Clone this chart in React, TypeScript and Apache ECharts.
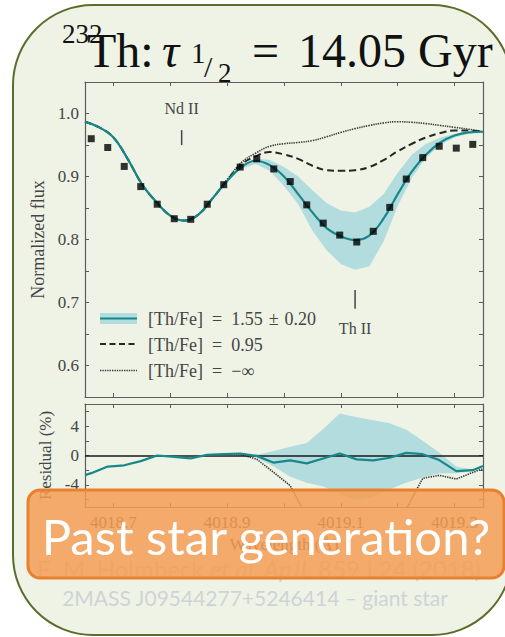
import React, { useEffect, useRef } from 'react';
import * as echarts from 'echarts';

// Observed spectrum (wavelength in Å, normalized flux)
const obsLambda = [
  4018.661, 4018.690, 4018.719, 4018.748, 4018.777, 4018.807, 4018.836, 4018.865,
  4018.894, 4018.923, 4018.952, 4018.982, 4019.011, 4019.040, 4019.069, 4019.098,
  4019.128, 4019.157, 4019.186, 4019.215, 4019.244, 4019.273, 4019.303, 4019.332,
];
const obsFlux = [
  0.960, 0.946, 0.916, 0.884, 0.856, 0.833, 0.832, 0.856,
  0.887, 0.915, 0.928, 0.912, 0.892, 0.855, 0.826, 0.807,
  0.796, 0.813, 0.851, 0.896, 0.930, 0.948, 0.945, 0.951,
];

// Synthetic spectra on the model grid
const modelLambda = [
  4018.650, 4018.675, 4018.700, 4018.725, 4018.750, 4018.775, 4018.800, 4018.825,
  4018.850, 4018.875, 4018.900, 4018.925, 4018.950, 4018.975, 4019.000, 4019.025,
  4019.050, 4019.075, 4019.100, 4019.125, 4019.150, 4019.175, 4019.200, 4019.225,
  4019.250, 4019.275, 4019.300, 4019.325, 4019.350,
];
const fitFlux = [
  0.987, 0.978, 0.962, 0.928, 0.888, 0.860, 0.838, 0.830,
  0.840, 0.866, 0.893, 0.915, 0.925, 0.918, 0.900, 0.872,
  0.843, 0.818, 0.805, 0.799, 0.806, 0.833, 0.872, 0.908,
  0.935, 0.954, 0.965, 0.970, 0.971,
];
const lowThFlux = [
  0.987, 0.978, 0.962, 0.928, 0.888, 0.860, 0.838, 0.830,
  0.840, 0.866, 0.894, 0.919, 0.932, 0.939, 0.935, 0.928,
  0.917, 0.910, 0.909, 0.910, 0.915, 0.926, 0.940, 0.952,
  0.962, 0.969, 0.973, 0.973, 0.971,
];
const noThFlux = [
  0.987, 0.978, 0.962, 0.928, 0.888, 0.860, 0.838, 0.830,
  0.840, 0.866, 0.895, 0.922, 0.937, 0.948, 0.952, 0.954,
  0.957, 0.963, 0.970, 0.976, 0.981, 0.985, 0.987, 0.986,
  0.984, 0.981, 0.978, 0.975, 0.971,
];

// ±0.20 dex envelope of the best fit
const bandLambda = [
  4018.900, 4018.925, 4018.950, 4018.975, 4019.000, 4019.025, 4019.050, 4019.075,
  4019.100, 4019.125, 4019.150, 4019.175, 4019.200, 4019.225, 4019.250, 4019.275,
  4019.300, 4019.325, 4019.350,
];
const bandUpper = [
  0.894, 0.918, 0.929, 0.926, 0.915, 0.900, 0.878, 0.858,
  0.846, 0.843, 0.852, 0.872, 0.906, 0.935, 0.952, 0.962,
  0.968, 0.971, 0.972,
];
const bandLower = [
  0.892, 0.912, 0.920, 0.909, 0.885, 0.856, 0.814, 0.783,
  0.761, 0.752, 0.757, 0.797, 0.853, 0.898, 0.930, 0.950,
  0.962, 0.968, 0.970,
];

// Residuals (%)
const residLambda = [
  4018.650, 4018.661, 4018.690, 4018.719, 4018.748, 4018.777, 4018.807, 4018.836,
  4018.865, 4018.894, 4018.923, 4018.952, 4018.982, 4019.011, 4019.040, 4019.069,
  4019.098, 4019.128, 4019.157, 4019.186, 4019.215, 4019.244, 4019.273, 4019.303,
  4019.332, 4019.350,
];
const residFit = [
  -2.67, -2.4, -1.5, -1.33, -0.76, 0.0, -0.18, -0.4,
  0.1, 0.2, 0.27, -0.05, -0.98, -0.67, -1.07, -0.4,
  0.27, -0.53, -0.67, -0.31, 0.36, 0.18, -0.62, -2.13,
  -2.0, -1.42,
];
const residNoThLambda = [
  4018.894, 4018.923, 4018.952, 4018.982, 4019.011, 4019.040, 4019.069, 4019.098,
  4019.128, 4019.157, 4019.186, 4019.215, 4019.244, 4019.273, 4019.303, 4019.332,
  4019.350,
];
const residNoTh = [
  0.2, 0.15, -0.5, -2.3, -4.1, -8.4, -12, -15,
  -17, -15, -11, -7.3, -3.1, -2.7, -3.2, -2.3,
  -1.8,
];
const residBandLambda = [
  4018.952, 4018.982, 4019.011, 4019.040, 4019.069, 4019.098, 4019.128, 4019.157,
  4019.186, 4019.215, 4019.244, 4019.273, 4019.303, 4019.332,
];
const residBandUpper = [0.1, 0.6, 1.2, 1.7, 3.6, 5.7, 5.2, 4.8, 4.4, 3.5, 2.0, 0.4, -1.5, -1.9];
const residBandLower = [-0.3, -1.5, -2.9, -3.7, -4.2, -5.2, -6.0, -5.6, -4.6, -3.7, -3.0, -2.4, -2.4, -2.1];

// Line identifications
const lineNames = ['Nd II', 'Th II'];
const lineLambda = [4018.82, 4019.125];
const lineTickTop = [0.9736, 0.720];
const lineTickBottom = [0.9498, 0.690];
const lineLabelFlux = [1.0084, 0.658];

// Legend entries
const legendLabels = [
  '[Th/Fe]\u2002=\u20021.55\u2004±\u20040.20',
  '[Th/Fe]\u2002=\u20020.95',
  '[Th/Fe]\u2002=\u2002−∞',
];

// Axis ticks and labels
const xMin = 4018.65;
const xMax = 4019.35;
const xTicks = [4018.7, 4018.8, 4018.9, 4019.0, 4019.1, 4019.2, 4019.3];
const xLabels = [4018.7, 4018.9, 4019.1, 4019.3];
const fluxMin = 0.55;
const fluxMax = 1.05;
const fluxTicks = [0.6, 0.65, 0.7, 0.75, 0.8, 0.85, 0.9, 0.95, 1.0];
const fluxLabels = [0.6, 0.7, 0.8, 0.9, 1.0];
const residMin = -7;
const residMax = 7;
const residTicks = [-6, -4, -2, 0, 2, 4, 6];
const residLabels = [-4, 0, 4];

const TEAL = '#17878a';
const BAND = '#b3dcdf';
const AXIS = '#5c5c5c';
const TEXT = '#454545';
const DOTTED = '#3c3c3c';
const SERIF = '"Liberation Serif", "DejaVu Serif", serif';
const SANS = 'Lato, "Open Sans", sans-serif';

function pairs(xs: number[], ys: number[]) {
  return xs.map((x, i) => [x, ys[i]]);
}

function envelope(xi: number, yi: number, lam: number[], up: number[], lo: number[]) {
  return {
    type: 'custom',
    xAxisIndex: xi,
    yAxisIndex: yi,
    silent: true,
    z: 1,
    data: lam.map((l, i) => [l, up[i], lo[i]]),
    encode: { x: 0, y: [1, 2] },
    renderItem: (params: any, api: any) => {
      if (params.dataIndex !== 0) return null;
      const pts: number[][] = [];
      for (let i = 0; i < lam.length; i++) pts.push(api.coord([lam[i], up[i]]));
      for (let i = lam.length - 1; i >= 0; i--) pts.push(api.coord([lam[i], lo[i]]));
      return { type: 'polygon', shape: { points: pts }, style: { fill: BAND } };
    },
  };
}

function frameAxis(gridIndex: number, position: string, isX: boolean, extra: any = {}) {
  return {
    type: 'value',
    gridIndex,
    position,
    min: isX ? xMin : gridIndex === 0 ? fluxMin : residMin,
    max: isX ? xMax : gridIndex === 0 ? fluxMax : residMax,
    axisLine: { show: true, onZero: false, lineStyle: { color: AXIS, width: 1.2 } },
    axisTick: {
      show: true,
      inside: true,
      length: 4,
      lineStyle: { color: AXIS, width: 1 },
      customValues: isX ? xTicks : gridIndex === 0 ? fluxTicks : residTicks,
    },
    axisLabel: { show: false },
    splitLine: { show: false },
    ...extra,
  };
}

const labelStyle = { color: TEXT, fontFamily: SERIF, fontSize: 17 };

export default function App() {
  const ref = useRef<HTMLDivElement>(null);

  useEffect(() => {
    if (!ref.current) return;
    const chart = echarts.init(ref.current, undefined, { renderer: 'svg' });

    const legendText = (i: number, y: number) => ({
      type: 'text',
      z: 11,
      x: 148,
      y,
      style: { text: legendLabels[i], fontFamily: SERIF, fontSize: 18, fill: TEXT, verticalAlign: 'middle' },
    });

    const option: any = {
      animation: false,
      backgroundColor: '#ffffff',
      grid: [
        { left: 85, top: 82, width: 398, height: 315, outerBoundsMode: 'none' },
        { left: 85, top: 404, width: 398, height: 103, outerBoundsMode: 'none' },
      ],
      xAxis: [
        frameAxis(0, 'bottom', true),
        frameAxis(0, 'top', true),
        frameAxis(1, 'bottom', true, {
          axisLabel: {
            show: true,
            margin: 7,
            customValues: xLabels,
            formatter: (v: number) => v.toFixed(1),
            ...labelStyle,
          },
          name: 'Wavelength (Å)',
          nameLocation: 'middle',
          nameGap: 29,
          nameTextStyle: labelStyle,
        }),
        frameAxis(1, 'top', true),
      ],
      yAxis: [
        frameAxis(0, 'left', false, {
          axisLabel: {
            show: true,
            margin: 6,
            customValues: fluxLabels,
            formatter: (v: number) => v.toFixed(1),
            ...labelStyle,
          },
          name: 'Normalized flux',
          nameLocation: 'middle',
          nameGap: 33,
          nameTextStyle: { ...labelStyle, fontSize: 18 },
        }),
        frameAxis(0, 'right', false),
        frameAxis(1, 'left', false, {
          axisLabel: {
            show: true,
            margin: 6,
            customValues: residLabels,
            formatter: (v: number) => (v < 0 ? '-' + Math.abs(v) : String(v)),
            ...labelStyle,
          },
          name: 'Residual (%)',
          nameLocation: 'middle',
          nameGap: 25,
          nameTextStyle: labelStyle,
        }),
        frameAxis(1, 'right', false),
      ],
      series: [
        envelope(0, 0, bandLambda, bandUpper, bandLower),
        {
          type: 'line',
          xAxisIndex: 0,
          yAxisIndex: 0,
          data: pairs(modelLambda, noThFlux),
          smooth: 0.4,
          symbol: 'none',
          lineStyle: { color: DOTTED, width: 1.6, type: [1.4, 1] },
          z: 2,
        },
        {
          type: 'line',
          xAxisIndex: 0,
          yAxisIndex: 0,
          data: pairs(modelLambda, lowThFlux),
          smooth: 0.4,
          symbol: 'none',
          lineStyle: { color: '#262626', width: 2, type: [7, 4] },
          z: 3,
        },
        {
          type: 'line',
          xAxisIndex: 0,
          yAxisIndex: 0,
          data: pairs(modelLambda, fitFlux),
          smooth: 0.4,
          symbol: 'none',
          lineStyle: { color: TEAL, width: 2.2 },
          z: 4,
        },
        {
          type: 'scatter',
          xAxisIndex: 0,
          yAxisIndex: 0,
          data: pairs(obsLambda, obsFlux),
          symbol: 'rect',
          symbolSize: 7,
          itemStyle: { color: '#000' },
          z: 5,
        },
        {
          type: 'custom',
          xAxisIndex: 0,
          yAxisIndex: 0,
          silent: true,
          z: 6,
          data: lineNames.map((_, i) => [lineLambda[i], lineTickTop[i], lineTickBottom[i], lineLabelFlux[i]]),
          encode: { x: 0, y: [1, 2, 3] },
          renderItem: (params: any, api: any) => {
            const l = api.value(0);
            const top = api.coord([l, api.value(1)]);
            const bot = api.coord([l, api.value(2)]);
            const lab = api.coord([l, api.value(3)]);
            return {
              type: 'group',
              children: [
                {
                  type: 'line',
                  shape: { x1: top[0], y1: top[1], x2: bot[0], y2: bot[1] },
                  style: { stroke: TEXT, lineWidth: 1.5 },
                },
                {
                  type: 'text',
                  x: lab[0],
                  y: lab[1],
                  style: {
                    text: lineNames[params.dataIndex],
                    fontFamily: SERIF,
                    fontSize: 16,
                    fill: TEXT,
                    align: 'center',
                    verticalAlign: 'middle',
                  },
                },
              ],
            };
          },
        },
        envelope(2, 2, residBandLambda, residBandUpper, residBandLower),
        {
          type: 'line',
          xAxisIndex: 2,
          yAxisIndex: 2,
          data: pairs(residNoThLambda, residNoTh),
          symbol: 'none',
          clip: true,
          lineStyle: { color: DOTTED, width: 1.6, type: [1.4, 1] },
          z: 2,
        },
        {
          type: 'line',
          xAxisIndex: 2,
          yAxisIndex: 2,
          data: pairs(residLambda, residFit),
          symbol: 'none',
          clip: true,
          lineStyle: { color: TEAL, width: 2.2 },
          z: 4,
          markLine: {
            silent: true,
            symbol: 'none',
            label: { show: false },
            lineStyle: { color: '#1a1a1a', width: 1.6, type: 'solid' },
            data: [{ yAxis: 0 }],
            z: 3,
          },
        },
      ],
      graphic: [
        {
          type: 'rect',
          z: -100,
          shape: { x: 13, y: 5, width: 499, height: 630, r: 80 },
          style: { fill: '#eef3e6', stroke: '#5b6d2b', lineWidth: 2 },
        },
        // title
        { type: 'text', z: 10, x: 62, y: 34, style: { text: '232', fontFamily: SERIF, fontSize: 27, fill: '#111', verticalAlign: 'middle' } },
        { type: 'text', z: 10, x: 87, y: 50, style: { text: 'Th:', fontFamily: SERIF, fontSize: 48, fill: '#111', verticalAlign: 'middle' } },
        { type: 'text', z: 10, x: 162, y: 50, style: { text: 'τ', fontFamily: SERIF, fontStyle: 'italic', fontSize: 48, fill: '#111', verticalAlign: 'middle' } },
        { type: 'text', z: 10, x: 191, y: 53, style: { text: '1', fontFamily: SERIF, fontSize: 29, fill: '#111', verticalAlign: 'middle' } },
        { type: 'text', z: 10, x: 204, y: 66, style: { text: '/', fontFamily: SERIF, fontSize: 30, fill: '#111', verticalAlign: 'middle' } },
        { type: 'text', z: 10, x: 218, y: 73, style: { text: '2', fontFamily: SERIF, fontSize: 27, fill: '#111', verticalAlign: 'middle' } },
        { type: 'text', z: 10, x: 252, y: 50, style: { text: '=', fontFamily: SERIF, fontSize: 48, fill: '#111', verticalAlign: 'middle' } },
        { type: 'text', z: 10, x: 298, y: 50, style: { text: '14.05 Gyr', fontFamily: SERIF, fontSize: 48, fill: '#111', verticalAlign: 'middle' } },
        // legend
        { type: 'rect', z: 10, shape: { x: 100, y: 313, width: 37, height: 11 }, style: { fill: BAND } },
        { type: 'line', z: 11, shape: { x1: 100, y1: 318.5, x2: 137, y2: 318.5 }, style: { stroke: TEAL, lineWidth: 2.2 } },
        legendText(0, 319),
        { type: 'line', z: 11, shape: { x1: 100, y1: 344, x2: 137, y2: 344 }, style: { stroke: '#262626', lineWidth: 2, lineDash: [6, 3.5] } },
        legendText(1, 344.5),
        { type: 'line', z: 11, shape: { x1: 100, y1: 370.5, x2: 137, y2: 370.5 }, style: { stroke: DOTTED, lineWidth: 1.5, lineDash: [1.4, 1] } },
        legendText(2, 371),
        // reference
        {
          type: 'text',
          z: 20,
          x: 259,
          y: 568,
          style: {
            text: '{n|E. M. Holmbeck }{i|et al. ApJL}{n| 859 L24 (2018)}',
            align: 'center',
            verticalAlign: 'middle',
            rich: {
              n: { fontFamily: SANS, fontSize: 24, fill: '#d0d3d5' },
              i: { fontFamily: SANS, fontSize: 24, fontStyle: 'italic', fill: '#d0d3d5' },
            },
          },
        },
        {
          type: 'text',
          z: 20,
          x: 255,
          y: 597,
          style: { text: '2MASS J09544277+5246414 – giant star', fontFamily: SANS, fontSize: 21, fill: '#d0d3d5', align: 'center', verticalAlign: 'middle' },
        },
        // banner
        {
          type: 'rect',
          z: 100,
          shape: { x: 28, y: 490, width: 476, height: 88, r: 12 },
          style: { fill: 'rgba(245,156,84,0.85)', stroke: '#e8812f', lineWidth: 3 },
        },
        {
          type: 'text',
          z: 101,
          x: 266,
          y: 536,
          style: { text: 'Past star generation?', fontFamily: SANS, fontSize: 49, fill: '#ffffff', align: 'center', verticalAlign: 'middle' },
        },
      ],
    };

    chart.setOption(option);
    return () => chart.dispose();
  }, []);

  return <div ref={ref} style={{ position: 'fixed', left: 0, top: 0, width: 505, height: 637 }} />;
}
